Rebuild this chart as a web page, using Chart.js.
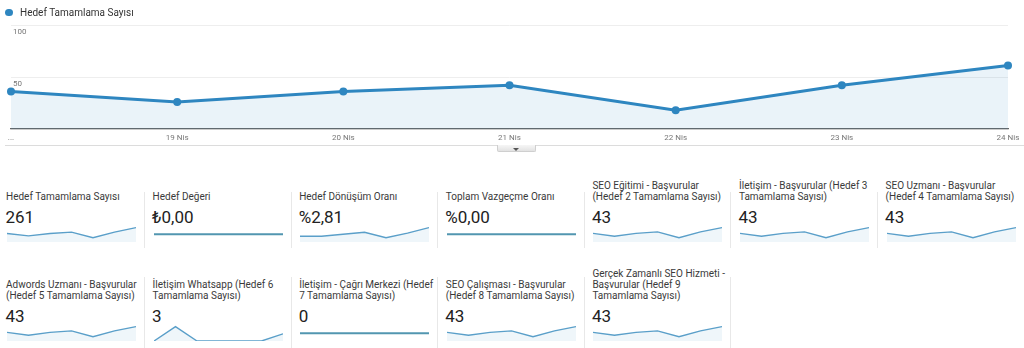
<!DOCTYPE html>
<html><head><meta charset="utf-8">
<script src="https://cdn.jsdelivr.net/npm/chart.js@4/dist/chart.umd.min.js"></script>
<style>
html,body{margin:0;padding:0;background:#fff;width:1024px;height:348px;overflow:hidden;font-family:Roboto,"Noto Sans",Arial,sans-serif;}
#wrap{position:relative;width:1024px;height:348px;}
.abs{position:absolute;}
.title{position:absolute;font-size:10px;line-height:11.3px;color:#3a3a3a;white-space:pre;}
.value{position:absolute;font-size:17px;line-height:20px;color:#222;white-space:pre;}
.sep{position:absolute;width:1px;background:#e8e8e8;}
</style></head><body><div id="wrap">
<canvas id="main" width="1024" height="145" class="abs" style="left:0;top:0"></canvas>
<div class="abs" style="left:5.3px;top:8.6px;width:7.4px;height:7.4px;border-radius:50%;background:#2e86c0"></div>
<div id="legendText" class="abs" style="left:20px;top:7.3px;font-size:10px;line-height:12px;color:#333;white-space:pre"></div>
<div class="abs" style="left:5px;top:145px;width:1019px;height:1px;background:#dcdcdc"></div>
<div class="abs" style="left:497px;top:145px;width:37px;height:6px;background:linear-gradient(#f6f6f6,#e2e2e2);border:1px solid #cfcfcf;border-top:none;border-radius:0 0 2px 2px"></div>
<div class="abs" style="left:513px;top:147.5px;width:0;height:0;border-left:3px solid transparent;border-right:3px solid transparent;border-top:3px solid #555"></div>
</div>
<script>
// ---- data ----
const seriesName = 'Hedef Tamamlama Sayısı';
const xLabels = ['...', '19 Nis', '20 Nis', '21 Nis', '22 Nis', '23 Nis', '24 Nis'];
const yTicks = [0, 50, 100];
const yTickLabels = ['', '50', '100'];
const goalCompletions = [36, 26, 36, 42, 18, 42, 61];
const goalValue = [0, 0, 0, 0, 0, 0, 0];
const conversionRate = [2.0, 2.0, 2.7, 3.4, 1.5, 3.1, 5.0];
const abandonRate = [0, 0, 0, 0, 0, 0, 0];
const goal2 = [6, 4, 6, 7, 3, 7, 10];
const goal3 = [6, 4, 6, 7, 3, 7, 10];
const goal4 = [6, 4, 6, 7, 3, 7, 10];
const goal5 = [6, 4, 6, 7, 3, 7, 10];
const goal6 = [0, 2, 0, 0, 0, 0, 1];
const goal7 = [0, 0, 0, 0, 0, 0, 0];
const goal8 = [6, 4, 6, 7, 3, 7, 10];
const goal9 = [6, 4, 6, 7, 3, 7, 10];
const cardTitles = [
  'Hedef Tamamlama Sayısı',
  'Hedef Değeri',
  'Hedef Dönüşüm Oranı',
  'Toplam Vazgeçme Oranı',
  'SEO Eğitimi - Başvurular\n(Hedef 2 Tamamlama Sayısı)',
  'İletişim - Başvurular (Hedef 3\nTamamlama Sayısı)',
  'SEO Uzmanı - Başvurular\n(Hedef 4 Tamamlama Sayısı)',
  'Adwords Uzmanı - Başvurular\n(Hedef 5 Tamamlama Sayısı)',
  'İletişim Whatsapp (Hedef 6\nTamamlama Sayısı)',
  'İletişim - Çağrı Merkezi (Hedef\n7 Tamamlama Sayısı)',
  'SEO Çalışması - Başvurular\n(Hedef 8 Tamamlama Sayısı)',
  'Gerçek Zamanlı SEO Hizmeti -\nBaşvurular (Hedef 9\nTamamlama Sayısı)'
];
const cardValues = ['261', '₺0,00', '%2,81', '%0,00', '43', '43', '43', '43', '3', '0', '43', '43'];
const cardSeries = [goalCompletions, goalValue, conversionRate, abandonRate, goal2, goal3, goal4, goal5, goal6, goal7, goal8, goal9];

// ---- styles ----
const MAIN = '#2e86c0';
const SPARK = '#5a9fc9';
const FLAT = '#5296b0';
const FONT = 'Roboto, "Noto Sans", Arial, sans-serif';

document.getElementById('legendText').textContent = seriesName;

new Chart(document.getElementById('main'), {
  type: 'line',
  data: { labels: xLabels, datasets: [{
    label: seriesName, data: goalCompletions, borderColor: MAIN,
    backgroundColor: 'rgba(47,134,192,0.10)', fill: 'origin', borderWidth: 3,
    pointRadius: 4, pointBackgroundColor: MAIN, pointBorderWidth: 0, tension: 0, clip: false
  }]},
  options: {
    responsive: false, animation: false, devicePixelRatio: 1,
    layout: { padding: { left: 11, right: 16, top: 25, bottom: 0 } },
    plugins: { legend: { display: false }, tooltip: { enabled: false } },
    scales: {
      x: {
        grid: { drawOnChartArea: false, drawTicks: false },
        border: { display: true, color: '#666', width: 1.3 },
        ticks: { autoSkip: false, maxRotation: 0, padding: 4, color: '#777', font: { size: 8, family: FONT } },
        afterFit: s => { s.height = 16; }
      },
      y: {
        min: 0, max: 100,
        afterBuildTicks: s => { s.ticks = yTicks.map(v => ({ value: v })); },
        ticks: { mirror: true, padding: 2, labelOffset: 7, color: '#777', font: { size: 8, family: FONT },
                 callback: (v, i) => yTickLabels[i] },
        grid: { color: '#eeeeee', drawTicks: false },
        border: { display: false },
        afterFit: s => { s.width = 0; }
      }
    }
  }
});

const wrap = document.getElementById('wrap');
const COLW = 146.6;
function spark(canvas, data) {
  const max = Math.max(...data);
  const flat = max === 0;
  new Chart(canvas, {
    type: 'line',
    data: { labels: xLabels, datasets: [{
      data, borderColor: flat ? FLAT : SPARK, borderWidth: flat ? 2 : 1.4,
      backgroundColor: 'rgba(47,134,192,0.08)', fill: flat ? false : 'origin',
      pointRadius: 0, tension: 0, clip: false
    }]},
    options: {
      responsive: false, animation: false, devicePixelRatio: 1,
      layout: { padding: 0 },
      plugins: { legend: { display: false }, tooltip: { enabled: false } },
      scales: { x: { display: false }, y: { display: false, min: flat ? -1 : 0, max: flat ? 1.3 : max * 1.25 } }
    }
  });
}
cardTitles.forEach((t, k) => {
  const row = k < 7 ? 0 : 1;
  const col = row === 0 ? k : k - 7;
  const x = 6 + COLW * col;
  const dy = row * 99;
  const lines = t.split('\n').length;
  const ti = document.createElement('div');
  ti.className = 'title';
  ti.style.left = x + 'px';
  ti.style.top = (202.6 + dy - lines * 11.3) + 'px';
  ti.textContent = t;
  wrap.appendChild(ti);
  const v = document.createElement('div');
  v.className = 'value';
  v.style.left = (x - 0.5) + 'px';
  v.style.top = (206.5 + dy) + 'px';
  v.textContent = cardValues[k];
  wrap.appendChild(v);
  const c = document.createElement('canvas');
  c.width = 129; c.height = 18;
  c.className = 'abs';
  c.style.left = (x + 1) + 'px';
  c.style.top = (224 + dy) + 'px';
  wrap.appendChild(c);
  spark(c, cardSeries[k]);
});
for (let i = 0; i < 6; i++) {
  const s = document.createElement('div');
  s.className = 'sep';
  s.style.left = (144 + COLW * i) + 'px'; s.style.top = '192px'; s.style.height = '56px';
  wrap.appendChild(s);
}
for (let i = 0; i < 5; i++) {
  const s = document.createElement('div');
  s.className = 'sep';
  s.style.left = (144 + COLW * i) + 'px'; s.style.top = '277px'; s.style.height = '71px';
  wrap.appendChild(s);
}
</script>
</body></html>
